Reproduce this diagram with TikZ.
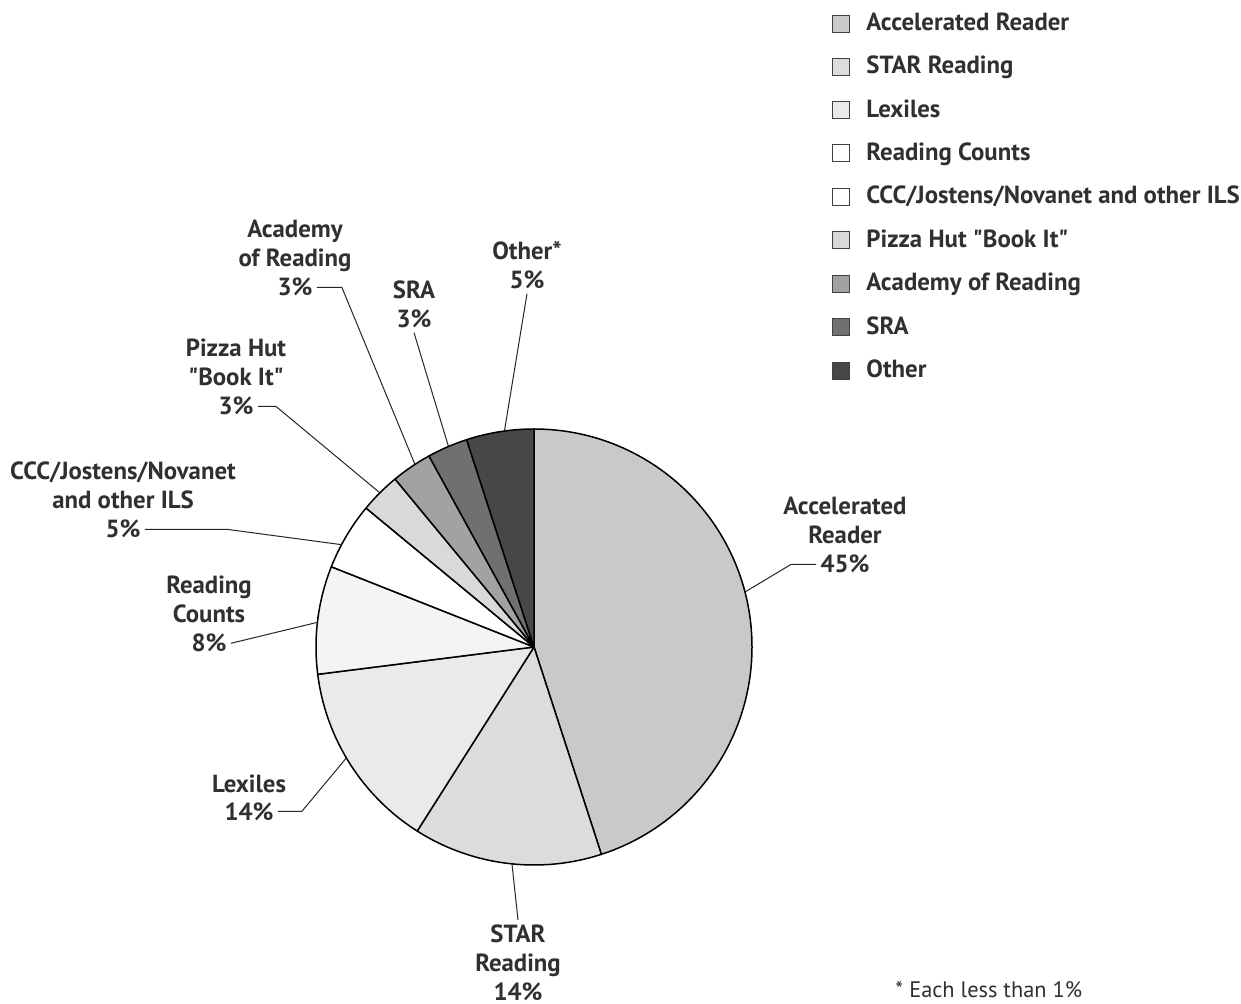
\documentclass[tikz,border=0pt]{standalone}
\usepackage{fontspec}
\setmainfont{PT Sans}
\definecolor{txt}{HTML}{303030}
\definecolor{cAR}{HTML}{C9C9C9}
\definecolor{cSTAR}{HTML}{DCDCDC}
\definecolor{cLEX}{HTML}{EAEAEA}
\definecolor{cRC}{HTML}{F4F4F4}
\definecolor{cCCC}{HTML}{FFFFFF}
\definecolor{cPIZ}{HTML}{D9D9D9}
\definecolor{cACA}{HTML}{A2A2A2}
\definecolor{cSRA}{HTML}{707070}
\definecolor{cOTH}{HTML}{474747}
\begin{document}
\begin{tikzpicture}[x=0.5pt,y=-0.5pt,
  lbl/.style={font=\fontsize{12.4}{14.5}\selectfont\bfseries, text=txt, align=center, inner sep=2pt, anchor=base},
  lead/.style={draw=black!85, line width=0.5pt},
  slice/.style={draw=black, line width=0.75pt, line join=round},
  legbox/.style={draw=black!75, line width=0.4pt, minimum size=8.5pt, inner sep=0pt},
  legtxt/.style={font=\fontsize{12.4}{14}\selectfont\bfseries, text=txt, anchor=base west, inner sep=0pt}]
\useasboundingbox (0,0) rectangle (1241,1004);
\fill[white] (0,0) rectangle (1241,1004);

% ---------- pie ----------
\begin{scope}[shift={(534,647)}, x=0.5pt, y=0.5pt]
  \def\R{218}
  \filldraw[slice, fill=cAR]   (0,0) -- (90:\R)     arc[start angle=90,     end angle=-72,    radius=\R] -- cycle;
  \filldraw[slice, fill=cSTAR] (0,0) -- (-72:\R)    arc[start angle=-72,    end angle=-122.4, radius=\R] -- cycle;
  \filldraw[slice, fill=cLEX]  (0,0) -- (-122.4:\R) arc[start angle=-122.4, end angle=-172.8, radius=\R] -- cycle;
  \filldraw[slice, fill=cRC]   (0,0) -- (-172.8:\R) arc[start angle=-172.8, end angle=-201.6, radius=\R] -- cycle;
  \filldraw[slice, fill=cCCC]  (0,0) -- (-201.6:\R) arc[start angle=-201.6, end angle=-219.6, radius=\R] -- cycle;
  \filldraw[slice, fill=cPIZ]  (0,0) -- (-219.6:\R) arc[start angle=-219.6, end angle=-230.4, radius=\R] -- cycle;
  \filldraw[slice, fill=cACA]  (0,0) -- (-230.4:\R) arc[start angle=-230.4, end angle=-241.2, radius=\R] -- cycle;
  \filldraw[slice, fill=cSRA]  (0,0) -- (-241.2:\R) arc[start angle=-241.2, end angle=-252,   radius=\R] -- cycle;
  \filldraw[slice, fill=cOTH]  (0,0) -- (-252:\R)   arc[start angle=-252,   end angle=-270,   radius=\R] -- cycle;
  \coordinate (arEdge)   at (14.6:\R);
  \coordinate (starEdge) at (-95.8:\R);
  \coordinate (lexEdge)  at (-149.4:\R);
  \coordinate (rcEdge)   at (173.5:\R);
  \coordinate (cccEdge)  at (152:\R);
  \coordinate (pizEdge)  at (135:\R);
  \coordinate (acaEdge)  at (123.1:\R);
  \coordinate (sraEdge)  at (113.1:\R);
  \coordinate (othEdge)  at (97.8:\R);
\end{scope}

% ---------- labels (base = baseline of last line) ----------
\node[lbl] (arname)   at (845,544) {Accelerated\\Reader};
\node[lbl] (arpct)    at (845,573) {45\%};
\node[lbl] (othname)  at (527,260) {Other*};
\node[lbl] (othpct)   at (527,289) {5\%};
\node[lbl] (sraname)  at (414,299) {SRA};
\node[lbl] (srapct)   at (414,328) {3\%};
\node[lbl] (acaname)  at (295,267) {Academy\\of Reading};
\node[lbl] (acapct)   at (295,296) {3\%};
\node[lbl] (pizname)  at (236,386) {Pizza Hut\\\textquotedbl Book It\textquotedbl};
\node[lbl] (pizpct)   at (236,415) {3\%};
\node[lbl] (cccname)  at (123,509) {CCC/Jostens/Novanet\\and other ILS};
\node[lbl] (cccpct)   at (123,538) {5\%};
\node[lbl] (rcname)   at (209,623) {Reading\\Counts};
\node[lbl] (rcpct)    at (209,652) {8\%};
\node[lbl] (lexname)  at (249,792) {Lexiles};
\node[lbl] (lexpct)   at (249,820) {14\%};
\node[lbl] (starname) at (518,971) {STAR\\Reading};
\node[lbl] (starpct)  at (518,1000) {14\%};

% ---------- leaders ----------
\draw[lead] (arpct.west) -- ++(-25,0) -- (arEdge);
\draw[lead] (starname.north) -- (starEdge);
\draw[lead] (lexpct.east) -- ++(24,0) -- (lexEdge);
\draw[lead] (rcpct.east) -- (rcEdge);
\draw[lead] (cccpct.east) -- ++(82,0) -- (cccEdge);
\draw[lead] (pizpct.east) -- ++(18,0) -- (pizEdge);
\draw[lead] (acapct.east) -- ++(25,0) -- (acaEdge);
\draw[lead] (srapct.south) -- (sraEdge);
\draw[lead] (othpct.south) -- (othEdge);

% ---------- legend ----------
\node[legbox, fill=cAR]   (lg1) at (840.5,23.5)  {};
\node[legbox, fill=cSTAR] (lg2) at (840.5,66.5)  {};
\node[legbox, fill=cLEX]  (lg3) at (840.5,110)   {};
\node[legbox, fill=white] (lg4) at (840.5,153)   {};
\node[legbox, fill=white] (lg5) at (840.5,196.5) {};
\node[legbox, fill=cPIZ]  (lg6) at (840.5,240)   {};
\node[legbox, fill=cACA]  (lg7) at (840.5,283.5) {};
\node[legbox, fill=cSRA]  (lg8) at (840.5,327)   {};
\node[legbox, fill=cOTH]  (lg9) at (840.5,370.5) {};
\node[legtxt] (lt1) at (866,31)  {Accelerated Reader};
\node[legtxt] (lt2) at (866,74)  {STAR Reading};
\node[legtxt] (lt3) at (866,118) {Lexiles};
\node[legtxt] (lt4) at (866,161) {Reading Counts};
\node[legtxt] (lt5) at (866,204) {CCC/Jostens/Novanet and other ILS};
\node[legtxt] (lt6) at (866,248) {Pizza Hut \textquotedbl Book It\textquotedbl};
\node[legtxt] (lt7) at (866,291) {Academy of Reading};
\node[legtxt] (lt8) at (866,335) {SRA};
\node[legtxt] (lt9) at (866,378) {Other};

% ---------- footnote ----------
\node[anchor=base west, inner sep=0pt, text=txt, font=\fontsize{11.2}{13}\selectfont] (note) at (895,997) {* Each less than 1\%};
\end{tikzpicture}
\end{document}
